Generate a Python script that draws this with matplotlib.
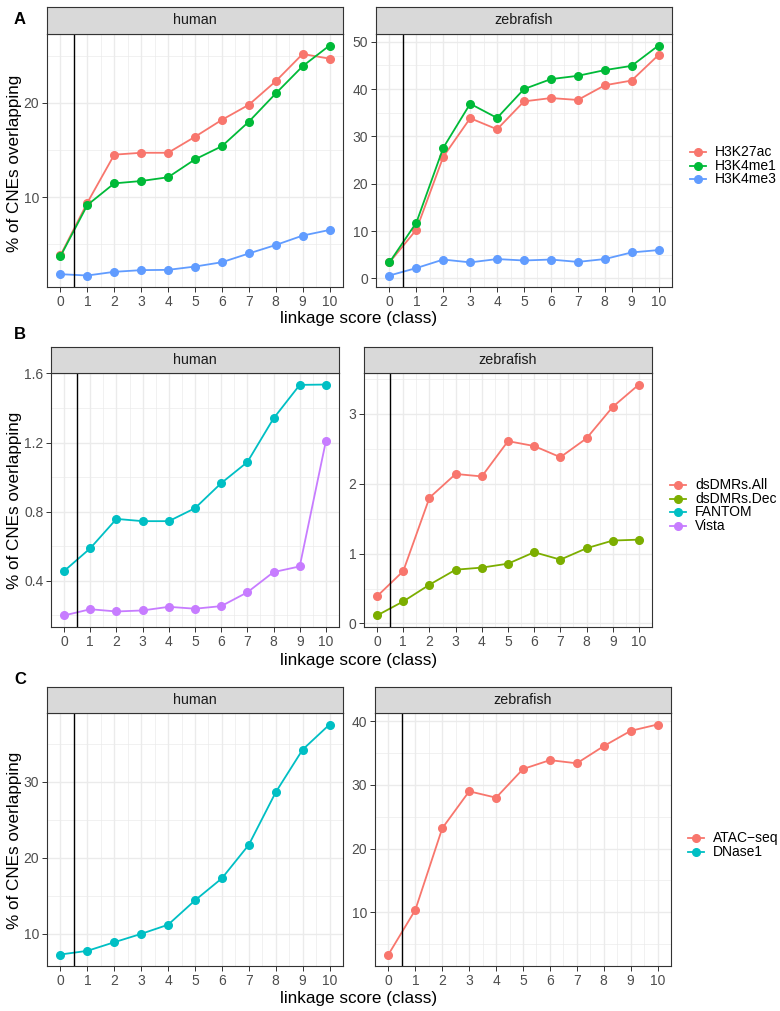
import matplotlib
matplotlib.use("Agg")
import matplotlib.pyplot as plt
from matplotlib.lines import Line2D
from matplotlib.ticker import MultipleLocator, FixedLocator

plt.rcParams['font.family'] = ['Liberation Sans', 'DejaVu Sans']

classes = list(range(11))

# panel A: histone marks
a_human_h3k27ac = [3.8, 9.4, 14.5, 14.7, 14.7, 16.4, 18.2, 19.8, 22.3, 25.2, 24.7]
a_human_h3k4me1 = [3.7, 9.15, 11.45, 11.7, 12.1, 14.0, 15.4, 18.0, 21.0, 23.9, 26.1]
a_human_h3k4me3 = [1.8, 1.66, 2.05, 2.23, 2.26, 2.61, 3.07, 4.0, 4.9, 5.9, 6.5]
a_zf_h3k27ac = [3.4, 10.3, 25.7, 33.85, 31.5, 37.4, 38.1, 37.7, 40.8, 41.8, 47.2]
a_zf_h3k4me1 = [3.4, 11.8, 27.6, 36.9, 33.9, 40.0, 42.1, 42.8, 44.0, 44.9, 49.2]
a_zf_h3k4me3 = [0.63, 2.2, 4.0, 3.4, 4.1, 3.8, 4.0, 3.5, 4.1, 5.5, 6.0]

# panel B: enhancer sets
b_human_fantom = [0.456, 0.588, 0.758, 0.745, 0.745, 0.82, 0.965, 1.087, 1.34, 1.534, 1.536]
b_human_vista = [0.199, 0.235, 0.222, 0.228, 0.249, 0.238, 0.253, 0.333, 0.45, 0.483, 1.209]
b_zf_dsdmrs_all = [0.39, 0.75, 1.80, 2.14, 2.105, 2.61, 2.54, 2.38, 2.65, 3.10, 3.42]
b_zf_dsdmrs_dec = [0.115, 0.316, 0.555, 0.77, 0.80, 0.856, 1.02, 0.914, 1.077, 1.187, 1.20]

# panel C: open chromatin
c_human_dnase1 = [7.29, 7.77, 8.9, 10.0, 11.2, 14.4, 17.3, 21.7, 28.6, 34.2, 37.5]
c_zf_atac = [3.35, 10.37, 23.2, 29.0, 28.0, 32.5, 33.9, 33.4, 36.1, 38.5, 39.5]

RED, GREEN, BLUE = '#F8766D', '#00BA38', '#619CFF'
OLIVE, CYAN, PURPLE = '#7CAE00', '#00BFC4', '#C77CFF'

W, H = 780, 1011
fig = plt.figure(figsize=(W / 100, H / 100), dpi=100)


def box(x0, y0, x1, y1):
    return [x0 / W, 1 - y1 / H, (x1 - x0) / W, (y1 - y0) / H]


def panel(rect, strip_top, title, series, yticks, yminor):
    x0, y0, x1, y1 = rect
    ax = fig.add_axes(box(x0, y0, x1, y1))
    for vals, col in series:
        ax.plot(classes, vals, color=col, lw=1.3, marker='o', ms=5.5, zorder=3)
    ax.axvline(0.5, color='black', lw=1.0, zorder=4)
    ax.set_xlim(-0.5, 10.5)
    ax.margins(y=0.05)
    ax.xaxis.set_major_locator(MultipleLocator(1))
    ax.xaxis.set_minor_locator(MultipleLocator(0.5))
    ax.yaxis.set_major_locator(FixedLocator(yticks))
    ax.yaxis.set_minor_locator(FixedLocator(yminor))
    ax.grid(which='major', color='#EBEBEB', lw=1.0, zorder=0)
    ax.grid(which='minor', color='#EBEBEB', lw=0.5, zorder=0)
    ax.set_axisbelow(True)
    ax.tick_params(which='major', length=3.5, width=0.7, color='#333333',
                   labelcolor='#4D4D4D', labelsize=10, pad=2)
    ax.tick_params(which='minor', length=0)
    for s in ax.spines.values():
        s.set_color('#333333')
        s.set_linewidth(0.8)
    # facet strip
    sax = fig.add_axes(box(x0, strip_top, x1, y0))
    sax.set_xticks([]); sax.set_yticks([])
    sax.set_facecolor('#D9D9D9')
    for s in sax.spines.values():
        s.set_color('#333333')
        s.set_linewidth(0.8)
    sax.text(0.5, 0.5, title, ha='center', va='center', fontsize=10.3,
             color='#1A1A1A', transform=sax.transAxes)
    return ax


def legend(x, y, labels, colors, dy=13.7):
    for i, (lab, col) in enumerate(zip(labels, colors)):
        yy = 1 - (y + i * dy) / H
        fig.add_artist(Line2D([(x - 8) / W, (x + 8) / W], [yy, yy], color=col,
                              lw=1.3, transform=fig.transFigure))
        fig.add_artist(Line2D([x / W], [yy], color=col, marker='o', ms=5.5,
                              transform=fig.transFigure))
        fig.text((x + 17) / W, yy, lab, fontsize=10, va='center', ha='left')


def row_labels(letter, lab_y, ylab_y, xlab_y):
    fig.text(20 / W, 1 - lab_y / H, letter, fontsize=12, fontweight='bold',
             ha='center', va='center')
    fig.text(15 / W, 1 - ylab_y / H, '% of CNEs overlapping', rotation=90,
             fontsize=12.3, ha='center', va='center')
    fig.text(359 / W, 1 - xlab_y / H, 'linkage score (class)', fontsize=12.3,
             ha='center', va='center')


# row A
panel((47, 34, 343, 287), 7, 'human',
      [(a_human_h3k27ac, RED), (a_human_h3k4me1, GREEN), (a_human_h3k4me3, BLUE)],
      [10, 20], [5, 15, 25])
panel((376, 34, 672, 287), 7, 'zebrafish',
      [(a_zf_h3k27ac, RED), (a_zf_h3k4me1, GREEN), (a_zf_h3k4me3, BLUE)],
      [0, 10, 20, 30, 40, 50], [5, 15, 25, 35, 45])
legend(698, 152, ['H3K27ac', 'H3K4me1', 'H3K4me3'], [RED, GREEN, BLUE])
row_labels('A', 20, 163, 318)

# row B
panel((51, 373, 339, 627), 347, 'human',
      [(b_human_fantom, CYAN), (b_human_vista, PURPLE)],
      [0.4, 0.8, 1.2, 1.6], [0.2, 0.6, 1.0, 1.4])
panel((364, 373, 652, 627), 347, 'zebrafish',
      [(b_zf_dsdmrs_all, RED), (b_zf_dsdmrs_dec, OLIVE)],
      [0, 1, 2, 3], [0.5, 1.5, 2.5, 3.5])
legend(678, 485, ['dsDMRs.All', 'dsDMRs.Dec', 'FANTOM', 'Vista'],
       [RED, OLIVE, CYAN, PURPLE])
row_labels('B', 335, 500, 660)

# row C
panel((47, 713, 343, 966), 687, 'human',
      [(c_human_dnase1, CYAN)],
      [10, 20, 30], [5, 15, 25, 35])
panel((375, 713, 671, 966), 687, 'zebrafish',
      [(c_zf_atac, RED)],
      [10, 20, 30, 40], [5, 15, 25, 35])
legend(696, 838, ['ATAC\u2212seq', 'DNase1'], [RED, CYAN])
row_labels('C', 680, 840, 999)

fig.savefig('out.png', dpi=100)
